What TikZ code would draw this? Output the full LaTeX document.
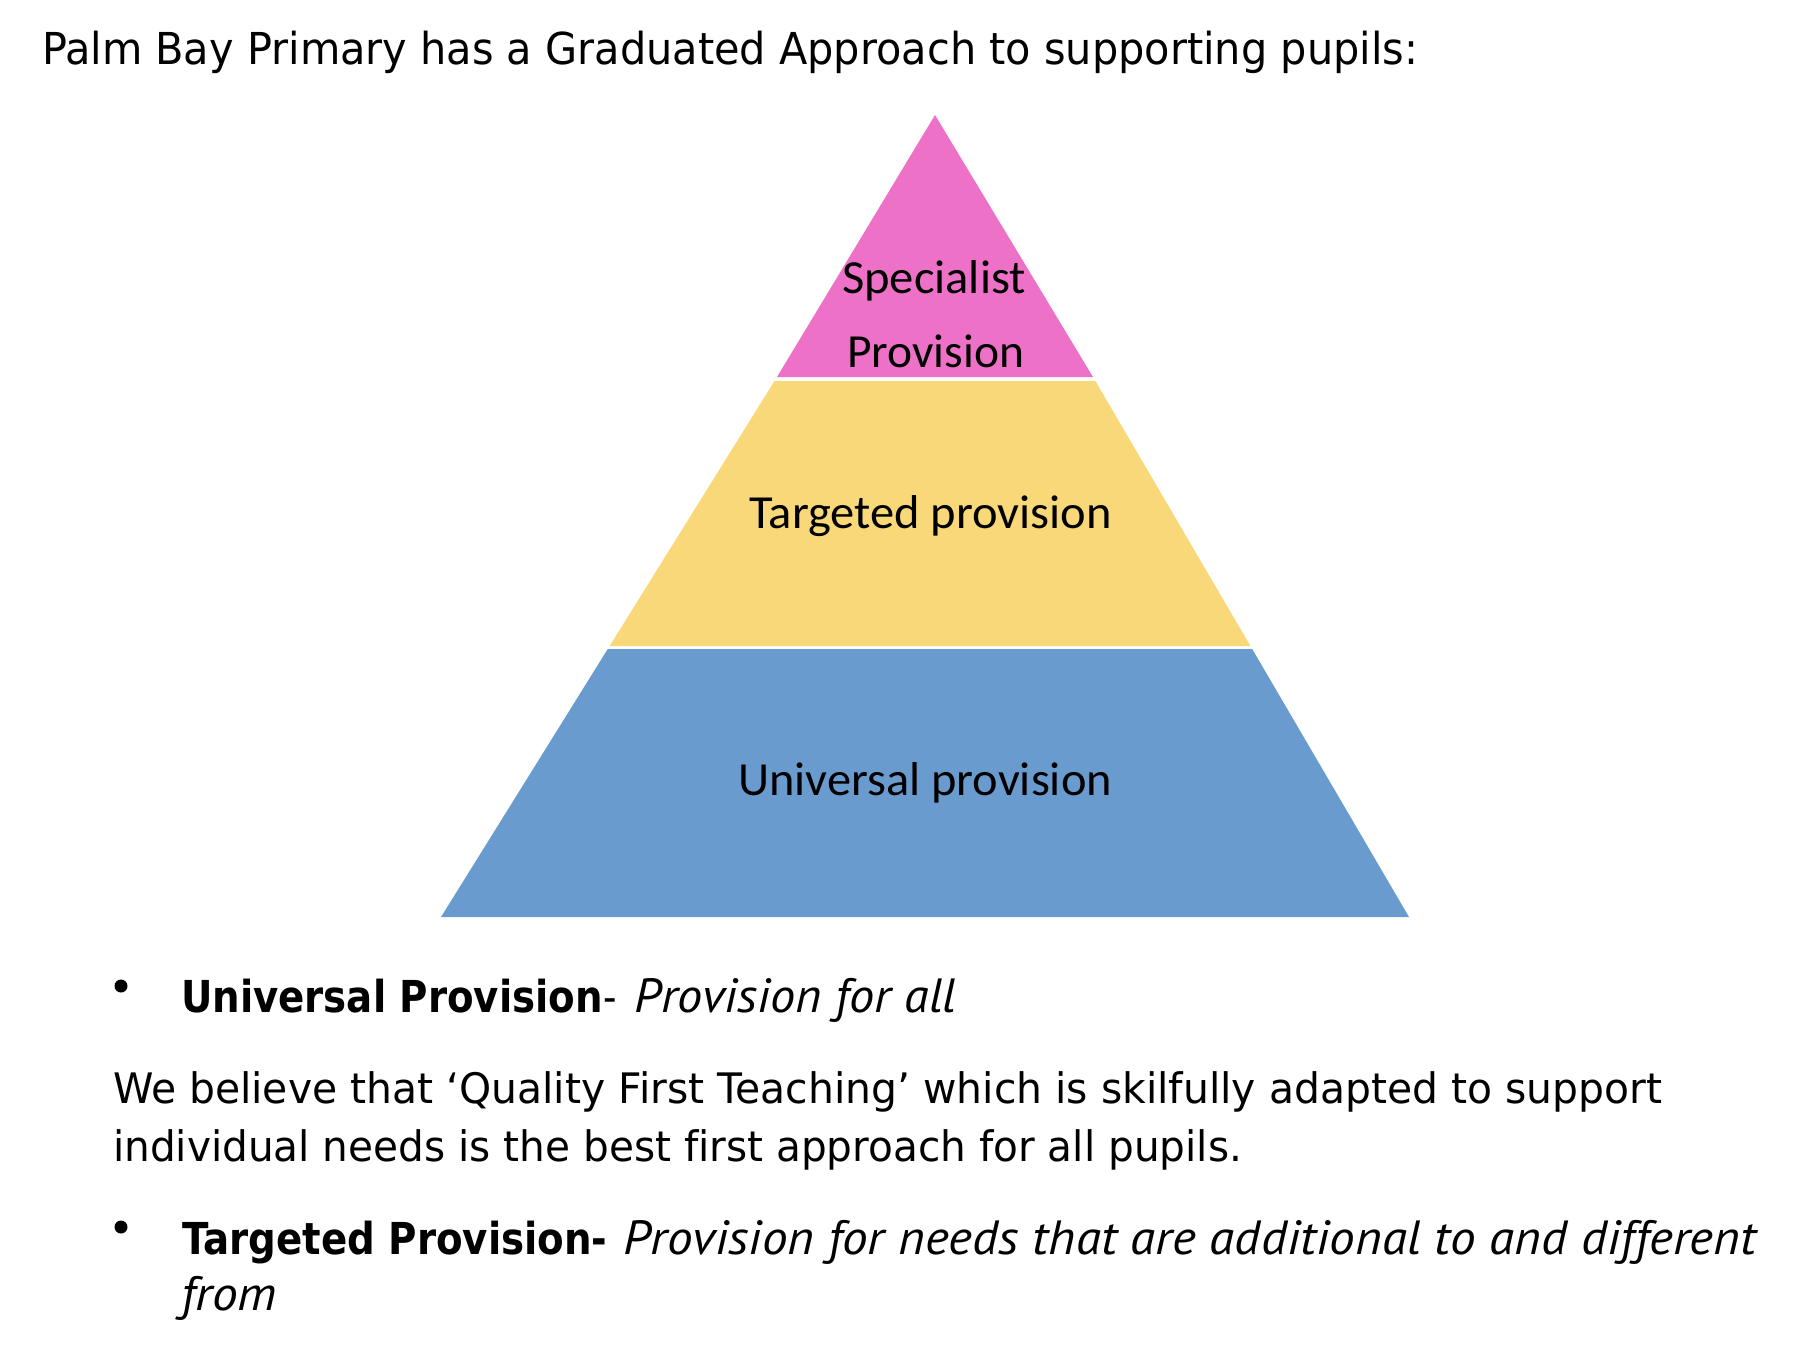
\documentclass[tikz,border=0pt]{standalone}
\usepackage{fontspec}
\usepackage{graphicx}
\setmainfont{DejaVu Sans}[Ligatures=NoCommon]
\newfontfamily\calibfont{Carlito}
\newfontfamily\itfont{PT Sans}[Ligatures=NoCommon]
\usetikzlibrary{calc}
\definecolor{pyrpink}{RGB}{237,113,199}
\definecolor{pyryellow}{RGB}{249,216,122}
\definecolor{pyrblue}{RGB}{106,155,207}
\newlength\fitlen
\newcommand\fitto[2]{\settowidth\fitlen{#2}\pgfmathsetmacro\fitsx{#1/\fitlen}\scalebox{\fitsx}[1]{#2}}
\newcommand\itx[1]{{\itfont\itshape\fontsize{48}{58}\selectfont #1}}
\tikzset{
  txt/.style={anchor=base west, inner sep=0pt, outer sep=0pt},
  bodytxt/.style={txt, font=\fontsize{44}{58}\selectfont},
  paratxt/.style={txt, font=\fontsize{42}{58}\selectfont},
  lbl/.style={anchor=base, inner sep=0pt, outer sep=0pt, font=\calibfont\fontsize{47.5}{57}\selectfont},
  bulletdot/.style={circle, fill=black, minimum size=13pt, inner sep=0pt},
}
\begin{document}
\begin{tikzpicture}[x=1pt,y=-1pt]
\useasboundingbox (0,0) rectangle (1820,1346);
% pyramid
\coordinate (apex) at (935,115);
\coordinate (pL) at (777,377);
\coordinate (pR) at (1093,377);
\coordinate (bl) at (441,917);
\coordinate (br) at (1409,917);
\coordinate (yL1) at ($(pL)!{4/540}!(bl)$);
\coordinate (yR1) at ($(pR)!{4/540}!(br)$);
\coordinate (yL2) at ($(pL)!{269/540}!(bl)$);
\coordinate (yR2) at ($(pR)!{269/540}!(br)$);
\coordinate (bL1) at ($(pL)!{272/540}!(bl)$);
\coordinate (bR1) at ($(pR)!{272/540}!(br)$);
\fill[pyrpink] (apex) -- (pL) -- (pR) -- cycle;
\fill[pyryellow] (yL1) -- (yR1) -- (yR2) -- (yL2) -- cycle;
\fill[pyrblue] (bL1) -- (bR1) -- (br) -- (bl) -- cycle;
% pyramid labels
\node[lbl] (spec) at (934,293) {\fitto{184}{Specialist}};
\node[lbl] (prov) at (935.5,367) {\fitto{177}{Provision}};
\node[lbl] (targ) at (930.5,528) {\fitto{363}{Targeted provision}};
\node[lbl] (univ) at (925,795) {\fitto{374}{Universal provision}};
% title
\node[bodytxt] (title) at (42,65) {\fitto{1376}{Palm Bay Primary has a Graduated Approach to supporting pupils:}};
% bullet 1
\node[bulletdot] (dot1) at (121,986) {};
\node[bodytxt] (b1) at (181,1012) {\fitto{422}{\textbf{Universal Provision}}\scalebox{0.85}[1]{-}\hspace{18pt}\fitto{322}{\itx{Provision for all}}};
% paragraph
\node[paratxt] (p1) at (113,1103) {\fitto{1549}{We believe that ‘Quality First Teaching’ which is skilfully adapted to support}};
\node[paratxt] (p2) at (113,1161) {\fitto{1129}{individual needs is the best first approach for all pupils.}};
% bullet 2
\node[bulletdot] (dot2) at (121,1227) {};
\node[bodytxt] (b2) at (182,1254) {\fitto{410}{\textbf{Targeted Provision}}\scalebox{0.85}[1]{\textbf{-}}\hspace{16pt}\fitto{1133}{\itx{Provision for needs that are additional to and different}}};
\node[bodytxt] (b2c) at (181,1310) {\fitto{96}{\itx{from}}};
\end{tikzpicture}
\end{document}
